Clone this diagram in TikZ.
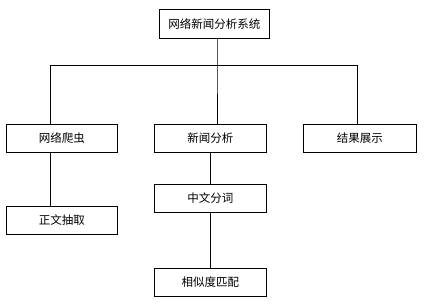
\documentclass[tikz,border=0pt]{standalone}
\usepackage{fontspec}
\newfontfamily\cjk{Noto Sans CJK SC}
\begin{document}
\begin{tikzpicture}[x=1pt,y=-1pt,
  boxnode/.style={draw,line width=0.8pt,minimum width=111pt,minimum height=28pt,inner sep=0pt,font=\cjk\fontsize{11.5}{12}\selectfont,anchor=north west},
  link/.style={line width=0.8pt}]
\useasboundingbox[fill=white] (0,0) rectangle (427,307);
\node[boxnode,minimum width=110pt,minimum height=29pt] (sys) at (159,9) {网络新闻分析系统};
\node[boxnode] (crawl) at (6,124) {网络爬虫};
\node[boxnode,minimum width=112pt] (news) at (154,124) {新闻分析};
\node[boxnode,minimum width=113pt] (show) at (303,124) {结果展示};
\node[boxnode] (extract) at (6,206) {正文抽取};
\node[boxnode,minimum width=112pt] (seg) at (154,184) {中文分词};
\node[boxnode,minimum width=112pt] (match) at (154,268) {相似度匹配};
\coordinate (j) at (217,65);
\coordinate (jl) at (50,65);
\coordinate (jr) at (357,65);
\draw[link] (sys.south -| j) -- (j) -- (news.north -| j);
\draw[link] (crawl.north -| jl) -- (jl) -- (jr) -- (show.north -| jr);
\draw[link] (crawl.south -| jl) -- (extract.north -| jl);
\coordinate (k) at (210,0);
\draw[link] (news.south -| k) -- (seg.north -| k);
\draw[link] (seg.south -| k) -- (match.north -| k);
\end{tikzpicture}
\end{document}
